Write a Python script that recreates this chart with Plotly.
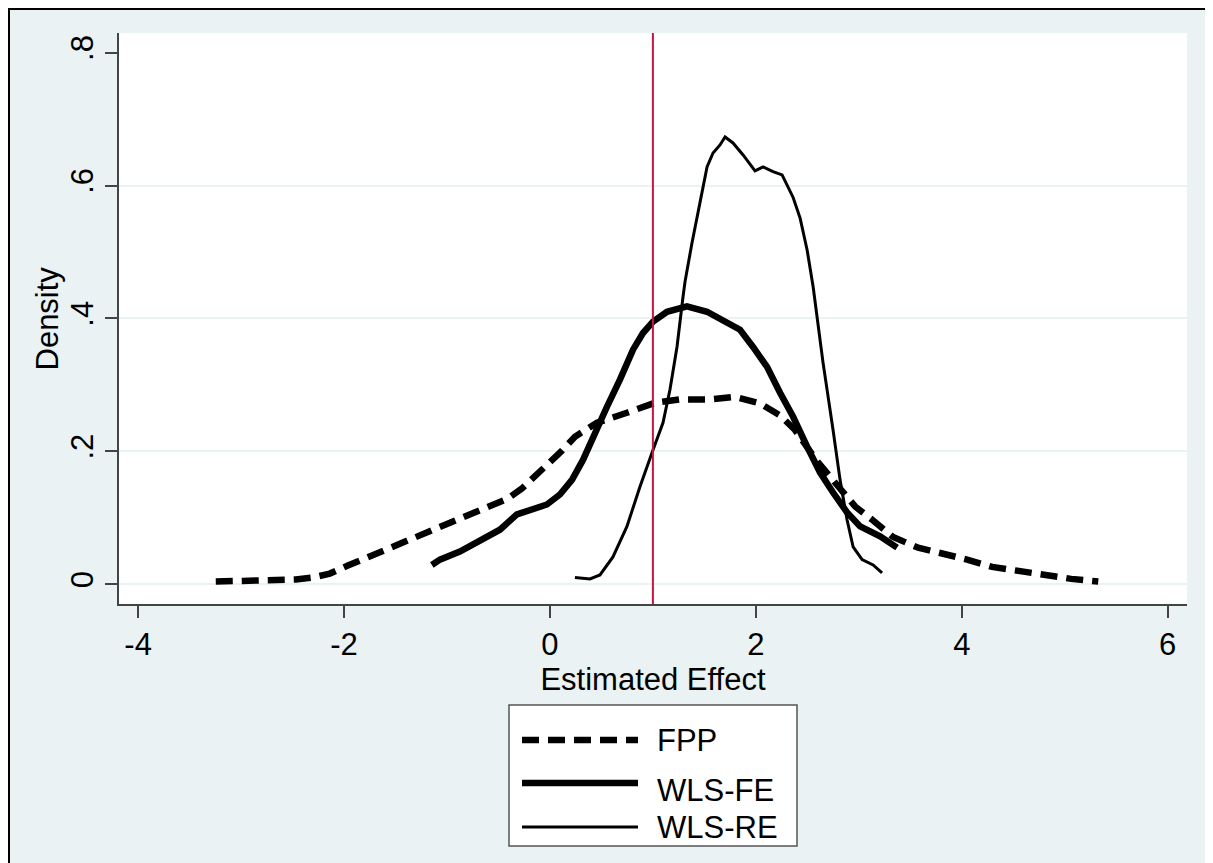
import plotly.graph_objects as go

# ---- data ----
fpp_x = [-3.246, -2.983, -2.731, -2.468, -2.303, -2.138, -1.963, -1.720, -1.477, -1.244,
         -0.991, -0.748, -0.583, -0.408, -0.272, -0.146, -0.019, 0.117, 0.243, 0.457,
         0.748, 1.020, 1.263, 1.555, 1.798, 2.041, 2.235, 2.381, 2.585, 2.779,
         2.964, 3.139, 3.333, 3.576, 3.810, 4.052, 4.295, 4.558, 4.810, 5.063, 5.326]
fpp_y = [0.004, 0.005, 0.005, 0.007, 0.010, 0.016, 0.028, 0.044, 0.058, 0.073,
         0.091, 0.106, 0.117, 0.129, 0.144, 0.162, 0.180, 0.201, 0.222, 0.243,
         0.258, 0.273, 0.278, 0.278, 0.282, 0.272, 0.254, 0.232, 0.187, 0.153,
         0.117, 0.096, 0.071, 0.055, 0.047, 0.037, 0.026, 0.019, 0.013, 0.008, 0.004]

fe_x = [-1.147, -1.069, -0.875, -0.651, -0.486, -0.321, -0.194, -0.029, 0.097, 0.214,
        0.321, 0.418, 0.554, 0.680, 0.807, 0.904, 1.001, 1.137, 1.293, 1.331,
        1.526, 1.681, 1.846, 1.973, 2.109, 2.235, 2.362, 2.498, 2.624, 2.750,
        2.886, 3.013, 3.207, 3.372]
fe_y = [0.029, 0.037, 0.049, 0.067, 0.082, 0.105, 0.112, 0.120, 0.135, 0.157,
        0.187, 0.222, 0.267, 0.308, 0.353, 0.378, 0.395, 0.410, 0.418, 0.418,
        0.410, 0.398, 0.383, 0.357, 0.327, 0.288, 0.252, 0.207, 0.168, 0.138,
        0.108, 0.087, 0.072, 0.055]

re_x = [0.243, 0.389, 0.486, 0.612, 0.748, 0.875, 1.001, 1.098, 1.166, 1.234,
        1.293, 1.312, 1.380, 1.458, 1.506, 1.526, 1.584, 1.652, 1.701, 1.778,
        1.876, 1.992, 2.070, 2.167, 2.255, 2.313, 2.362, 2.430, 2.498, 2.556,
        2.653, 2.750, 2.818, 2.886, 2.945, 3.032, 3.139, 3.226]
re_y = [0.010, 0.008, 0.014, 0.041, 0.087, 0.147, 0.202, 0.243, 0.293, 0.357,
        0.433, 0.455, 0.514, 0.574, 0.612, 0.628, 0.649, 0.661, 0.673, 0.664,
        0.646, 0.622, 0.628, 0.621, 0.616, 0.598, 0.582, 0.551, 0.503, 0.448,
        0.333, 0.232, 0.157, 0.097, 0.056, 0.037, 0.029, 0.017]

ref_line_x = 1.0
x_ticks = [-4, -2, 0, 2, 4, 6]
x_tick_text = ["-4", "-2", "0", "2", "4", "6"]
y_ticks = [0, 0.2, 0.4, 0.6, 0.8]
y_tick_text = ["0", ".2", ".4", ".6", ".8"]
y_grid = [0, 0.2, 0.4, 0.6]
series_names = ["FPP", "WLS-FE", "WLS-RE"]
x_title = "Estimated Effect"
y_title = "Density"

FONT = "Liberation Sans, Arial, sans-serif"
FS = 31
BG = "#EAF2F3"
OFF = 8  # page body margin
W, H = 1213 - OFF, 863 - OFF
ML, MR, MT, MB = 119 - OFF, 26, 33 - OFF, 259
PW, PH = W - ML - MR, H - MT - MB


def px(x):  # page x -> paper
    return (x - OFF - ML) / PW


def py(y):  # page y -> paper
    return (H - MB - (y - OFF)) / PH


fig = go.Figure()
fig.add_trace(go.Scatter(x=fpp_x, y=fpp_y, mode="lines", name=series_names[0],
                         line=dict(color="black", width=6.5, dash="17px,9px"),
                         showlegend=False))
fig.add_trace(go.Scatter(x=fe_x, y=fe_y, mode="lines", name=series_names[1],
                         line=dict(color="black", width=6.5), showlegend=False))
fig.add_trace(go.Scatter(x=re_x, y=re_y, mode="lines", name=series_names[2],
                         line=dict(color="black", width=3), showlegend=False))
# grid-only overlay axis (no grid line at the top tick)
fig.add_trace(go.Scatter(x=[None], y=[None], yaxis="y2", showlegend=False,
                         hoverinfo="skip"))

shapes = [
    # outer background with frame
    dict(type="rect", xref="paper", yref="paper", x0=px(9), x1=px(1240), y0=py(9), y1=py(900),
         fillcolor=BG, line=dict(color="black", width=2), layer="below"),
    # white plot region
    dict(type="rect", xref="paper", yref="paper", x0=0, x1=1, y0=0, y1=1,
         fillcolor="white", line=dict(width=0), layer="below"),
    # reference vertical line
    dict(type="line", xref="x", yref="paper", x0=ref_line_x, x1=ref_line_x, y0=0, y1=1,
         line=dict(color="#C8143F", width=2), layer="above"),
    # legend box
    dict(type="rect", xref="paper", yref="paper", x0=px(509), x1=px(797), y0=py(705), y1=py(846),
         fillcolor="white", line=dict(color="#555555", width=1.5)),
]
# legend samples
leg_lines = [(740, dict(color="black", width=6.5, dash="17px,9px")),
             (783, dict(color="black", width=6.5)),
             (827, dict(color="black", width=3))]
for yy, ln in leg_lines:
    shapes.append(dict(type="line", xref="paper", yref="paper", x0=px(522), x1=px(638),
                       y0=py(yy), y1=py(yy), line=ln))

annotations = []
leg_text_y = [740, 790, 827]
for name, yy in zip(series_names, leg_text_y):
    annotations.append(dict(text=name, xref="paper", yref="paper", x=px(655), y=py(yy),
                            xanchor="left", yanchor="middle", showarrow=False,
                            font=dict(family=FONT, size=FS, color="black")))
# y-axis title
annotations.append(dict(text=y_title, xref="paper", yref="paper", x=px(47), y=0.5,
                        xanchor="center", yanchor="middle", textangle=-90, showarrow=False,
                        font=dict(family=FONT, size=FS, color="black")))

fig.update_layout(
    width=W, height=H,
    margin=dict(l=ML, r=MR, t=MT, b=MB, pad=0),
    paper_bgcolor="white", plot_bgcolor="white",
    font=dict(family=FONT, size=FS, color="black"),
    shapes=shapes, annotations=annotations,
    showlegend=False,
    xaxis=dict(range=[-4.186, 6.188], tickvals=x_ticks, ticktext=x_tick_text,
               ticks="outside", ticklen=12,
               tickwidth=1.5, tickcolor="#444444", showline=True, linecolor="#444444",
               linewidth=1.5, showgrid=False, zeroline=False,
               tickfont=dict(family=FONT, size=FS),
               title=dict(text=x_title, font=dict(family=FONT, size=FS), standoff=4)),
    yaxis=dict(range=[-0.0298, 0.8295], tickvals=y_ticks, ticktext=y_tick_text,
               ticks="outside", ticklen=12, tickwidth=1.5, tickcolor="#444444",
               showline=True, linecolor="#444444", linewidth=1.5, showgrid=False,
               zeroline=False, tickangle=-90, tickfont=dict(family=FONT, size=FS)),
    yaxis2=dict(overlaying="y", matches="y", tickvals=y_grid, showticklabels=False,
                showgrid=True, gridcolor=BG, gridwidth=2, ticks="", showline=False,
                zeroline=False),
)

fig.write_html("out.html")
